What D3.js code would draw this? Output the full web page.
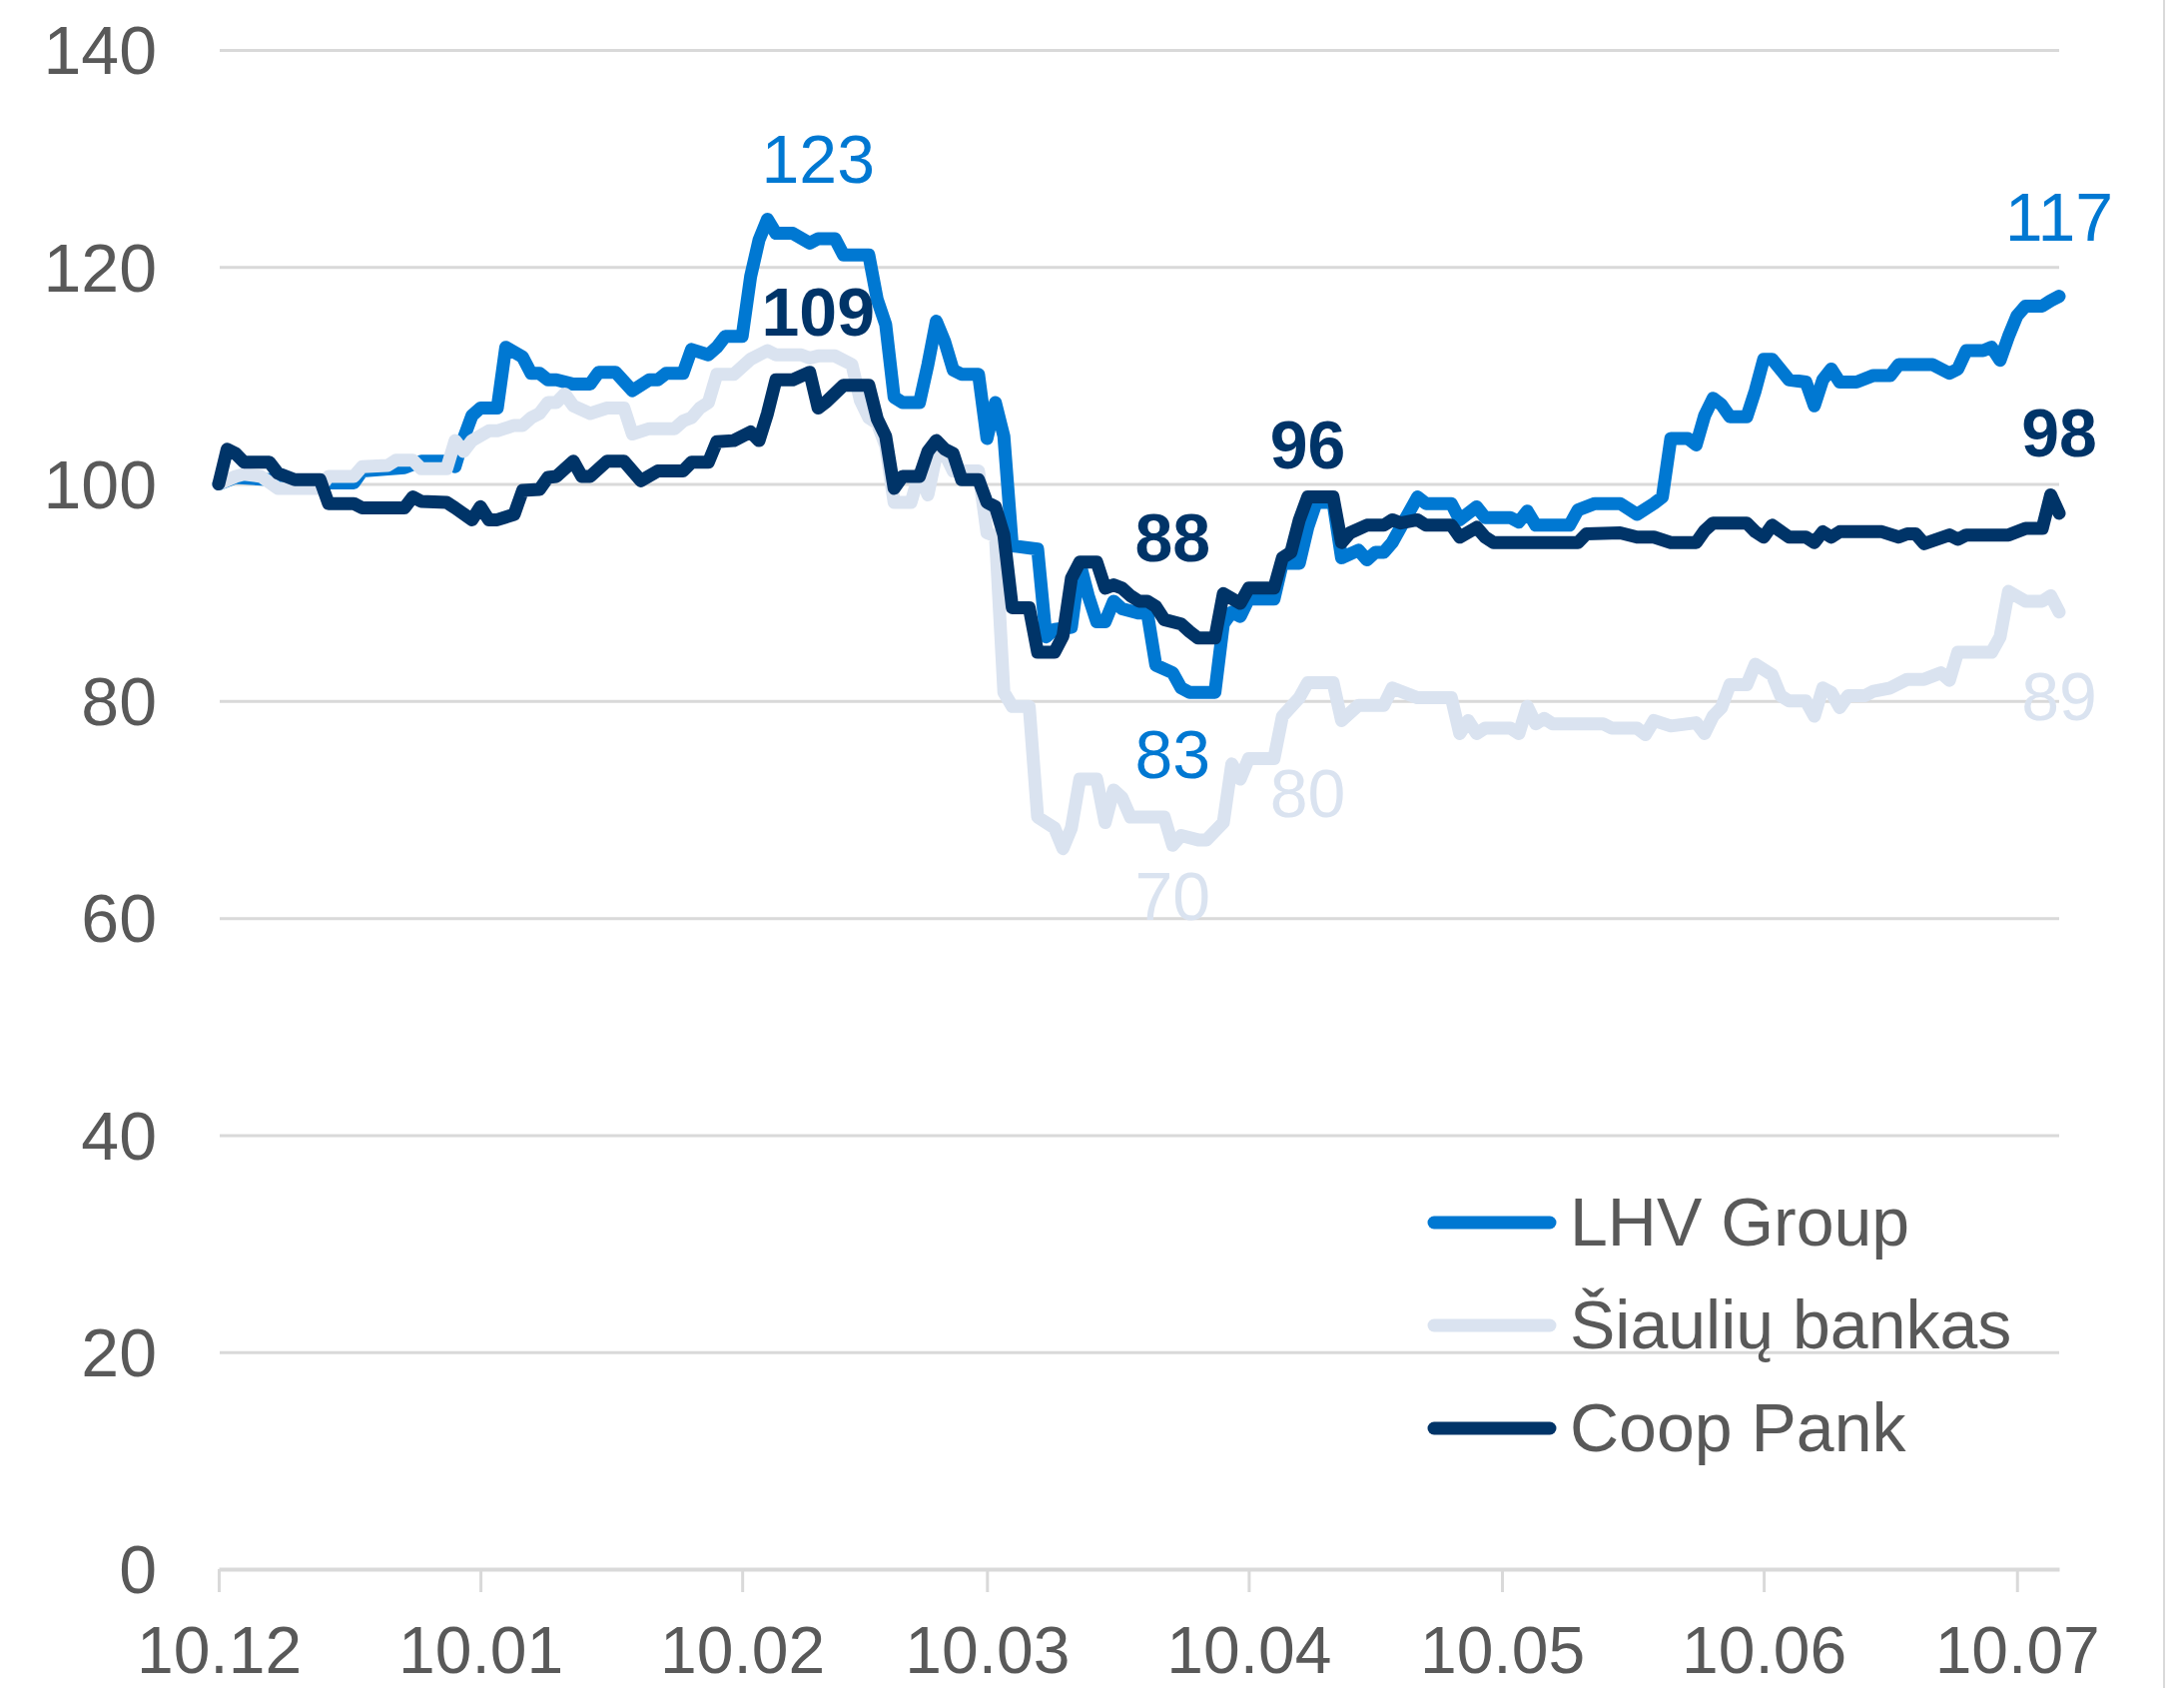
<!DOCTYPE html>
<html>
<head>
<meta charset="utf-8">
<script src="https://cdn.jsdelivr.net/npm/d3@7"></script>
<style>
  body { margin: 0; background: #fff; }
  svg { display: block; font-family: "Liberation Sans", Arial, sans-serif; }
  .tick text { fill: #595959; font-size: 68px; }
  .x-axis .tick text { font-size: 66px; }
</style>
</head>
<body>
<svg id="chart"></svg>
<script>
// series names and colours
const seriesNames = ["LHV Group", "Šiaulių bankas", "Coop Pank"];
const seriesColors = ["#0078d2", "#dae3f0", "#003468"];

// y axis ticks and x axis tick dates (dd.mm)
const yTicks = [0, 20, 40, 60, 80, 100, 120, 140];
const xTicks = ["2019-12-10", "2020-01-10", "2020-02-10", "2020-03-10", "2020-04-10", "2020-05-10", "2020-06-10", "2020-07-10"];

// LHV Group, index
const lhv = [
  ["2019-12-10",100.0],["2019-12-12",100.6],["2019-12-16",100.4],["2019-12-23",100.1],["2019-12-26",100.1],
  ["2019-12-27",101.2],["2020-01-01",101.5],["2020-01-03",102.1],["2020-01-06",102.1],["2020-01-07",101.6],
  ["2020-01-08",104.2],["2020-01-09",106.3],["2020-01-10",107.0],["2020-01-12",107.0],["2020-01-13",112.6],
  ["2020-01-15",111.7],["2020-01-16",110.2],["2020-01-17",110.2],["2020-01-18",109.6],["2020-01-19",109.6],
  ["2020-01-21",109.2],["2020-01-23",109.2],["2020-01-24",110.3],["2020-01-26",110.3],["2020-01-28",108.6],
  ["2020-01-30",109.6],["2020-01-31",109.6],["2020-02-01",110.2],["2020-02-03",110.2],["2020-02-04",112.4],
  ["2020-02-06",111.9],["2020-02-07",112.6],["2020-02-08",113.6],["2020-02-10",113.6],["2020-02-11",119.1],
  ["2020-02-12",122.5],["2020-02-13",124.4],["2020-02-14",123.1],["2020-02-16",123.1],["2020-02-18",122.2],
  ["2020-02-19",122.6],["2020-02-21",122.6],["2020-02-22",121.1],["2020-02-25",121.1],["2020-02-26",117.0],
  ["2020-02-27",114.7],["2020-02-28",108.0],["2020-02-29",107.5],["2020-03-02",107.5],["2020-03-03",111.0],
  ["2020-03-04",115.0],["2020-03-05",113.1],["2020-03-06",110.5],["2020-03-07",110.1],["2020-03-09",110.1],
  ["2020-03-10",104.2],["2020-03-11",107.5],["2020-03-12",104.4],["2020-03-13",94.3],["2020-03-16",94.0],
  ["2020-03-17",85.9],["2020-03-18",86.6],["2020-03-20",86.8],["2020-03-21",92.7],["2020-03-22",89.7],
  ["2020-03-23",87.3],["2020-03-24",87.3],["2020-03-25",89.2],["2020-03-26",88.5],["2020-03-28",88.1],
  ["2020-03-29",88.1],["2020-03-30",83.3],["2020-04-01",82.6],["2020-04-02",81.2],["2020-04-03",80.8],
  ["2020-04-06",80.8],["2020-04-07",87.1],["2020-04-08",88.2],["2020-04-09",87.8],["2020-04-10",89.4],
  ["2020-04-13",89.4],["2020-04-14",92.7],["2020-04-16",92.7],["2020-04-17",96.0],["2020-04-18",98.3],
  ["2020-04-20",98.3],["2020-04-21",93.2],["2020-04-23",93.9],["2020-04-24",93.0],["2020-04-25",93.7],
  ["2020-04-26",93.7],["2020-04-27",94.6],["2020-04-28",96.0],["2020-04-30",98.8],["2020-05-01",98.2],
  ["2020-05-04",98.2],["2020-05-05",96.7],["2020-05-07",97.9],["2020-05-08",96.9],["2020-05-11",96.9],
  ["2020-05-12",96.5],["2020-05-13",97.5],["2020-05-14",96.2],["2020-05-18",96.2],["2020-05-19",97.6],
  ["2020-05-21",98.2],["2020-05-24",98.2],["2020-05-26",97.2],["2020-05-28",98.2],["2020-05-29",98.8],
  ["2020-05-30",104.2],["2020-06-01",104.2],["2020-06-02",103.6],["2020-06-03",106.3],["2020-06-04",107.9],
  ["2020-06-05",107.3],["2020-06-06",106.2],["2020-06-08",106.2],["2020-06-09",108.6],["2020-06-10",111.5],
  ["2020-06-11",111.5],["2020-06-13",109.6],["2020-06-15",109.4],["2020-06-16",107.2],["2020-06-17",109.6],
  ["2020-06-18",110.6],["2020-06-19",109.4],["2020-06-21",109.4],["2020-06-23",110.0],["2020-06-25",110.0],
  ["2020-06-26",111.0],["2020-06-30",111.0],["2020-07-02",110.2],["2020-07-03",110.6],["2020-07-04",112.3],
  ["2020-07-06",112.3],["2020-07-07",112.6],["2020-07-08",111.4],["2020-07-09",113.6],["2020-07-10",115.5],
  ["2020-07-11",116.4],["2020-07-13",116.4],["2020-07-14",116.9],["2020-07-15",117.3]
];

// Šiaulių bankas
const siauliu = [
  ["2019-12-10",100.0],["2019-12-12",100.7],["2019-12-13",100.9],["2019-12-15",100.7],["2019-12-17",99.6],
  ["2019-12-22",99.6],["2019-12-23",100.7],["2019-12-26",100.7],["2019-12-27",101.6],["2019-12-30",101.7],
  ["2019-12-31",102.2],["2020-01-02",102.2],["2020-01-03",101.4],["2020-01-06",101.4],["2020-01-07",104.0],
  ["2020-01-08",103.0],["2020-01-09",104.0],["2020-01-11",104.9],["2020-01-12",104.9],["2020-01-14",105.4],
  ["2020-01-15",105.4],["2020-01-16",106.1],["2020-01-17",106.5],["2020-01-18",107.5],["2020-01-19",107.5],
  ["2020-01-20",108.3],["2020-01-21",107.2],["2020-01-23",106.5],["2020-01-25",107.0],["2020-01-27",107.0],
  ["2020-01-28",104.6],["2020-01-30",105.1],["2020-02-02",105.1],["2020-02-03",105.8],["2020-02-04",106.1],
  ["2020-02-05",107.0],["2020-02-06",107.5],["2020-02-07",110.1],["2020-02-09",110.1],["2020-02-11",111.5],
  ["2020-02-13",112.3],["2020-02-14",111.9],["2020-02-17",111.9],["2020-02-18",111.6],["2020-02-19",111.8],
  ["2020-02-21",111.8],["2020-02-23",111.0],["2020-02-24",107.7],["2020-02-25",106.1],["2020-02-26",105.6],
  ["2020-02-27",103.5],["2020-02-28",98.3],["2020-03-01",98.3],["2020-03-02",101.0],["2020-03-03",99.0],
  ["2020-03-04",102.7],["2020-03-05",102.8],["2020-03-06",101.2],["2020-03-09",101.2],["2020-03-10",95.5],
  ["2020-03-11",95.2],["2020-03-12",80.8],["2020-03-13",79.5],["2020-03-15",79.5],["2020-03-16",69.3],
  ["2020-03-18",68.3],["2020-03-19",66.4],["2020-03-20",68.3],["2020-03-21",72.8],["2020-03-23",72.8],
  ["2020-03-24",68.8],["2020-03-25",71.8],["2020-03-26",71.1],["2020-03-27",69.3],["2020-03-31",69.3],
  ["2020-04-01",66.7],["2020-04-02",67.6],["2020-04-04",67.2],["2020-04-05",67.2],["2020-04-07",68.8],
  ["2020-04-08",74.2],["2020-04-09",72.8],["2020-04-10",74.7],["2020-04-13",74.7],["2020-04-14",78.6],
  ["2020-04-16",80.3],["2020-04-17",81.7],["2020-04-20",81.7],["2020-04-21",78.2],["2020-04-23",79.6],
  ["2020-04-26",79.6],["2020-04-27",81.2],["2020-04-30",80.3],["2020-05-04",80.3],["2020-05-05",77.0],
  ["2020-05-06",78.2],["2020-05-07",77.0],["2020-05-08",77.5],["2020-05-11",77.5],["2020-05-12",77.0],
  ["2020-05-13",79.5],["2020-05-14",77.9],["2020-05-15",78.4],["2020-05-16",77.9],["2020-05-22",77.9],
  ["2020-05-23",77.5],["2020-05-26",77.5],["2020-05-27",76.9],["2020-05-28",78.2],["2020-05-30",77.7],
  ["2020-06-02",78.0],["2020-06-03",77.0],["2020-06-04",78.6],["2020-06-05",79.4],["2020-06-06",81.5],
  ["2020-06-08",81.5],["2020-06-09",83.4],["2020-06-11",82.4],["2020-06-12",80.5],["2020-06-13",80.0],
  ["2020-06-15",80.0],["2020-06-16",78.6],["2020-06-17",81.2],["2020-06-18",80.8],["2020-06-19",79.4],
  ["2020-06-20",80.5],["2020-06-22",80.5],["2020-06-23",80.9],["2020-06-25",81.2],["2020-06-27",82.0],
  ["2020-06-29",82.0],["2020-07-01",82.6],["2020-07-02",81.9],["2020-07-03",84.5],["2020-07-07",84.5],
  ["2020-07-08",85.9],["2020-07-09",90.1],["2020-07-11",89.2],["2020-07-13",89.2],["2020-07-14",89.7],
  ["2020-07-15",88.2]
];

// Coop Pank
const coop = [
  ["2019-12-10",100.0],["2019-12-11",103.2],["2019-12-12",102.8],["2019-12-13",102.0],["2019-12-16",102.0],
  ["2019-12-17",101.0],["2019-12-19",100.4],["2019-12-22",100.4],["2019-12-23",98.2],["2019-12-26",98.2],
  ["2019-12-27",97.8],["2020-01-01",97.8],["2020-01-02",98.8],["2020-01-03",98.4],["2020-01-06",98.3],
  ["2020-01-07",97.8],["2020-01-09",96.7],["2020-01-10",97.9],["2020-01-11",96.7],["2020-01-12",96.7],
  ["2020-01-14",97.2],["2020-01-15",99.4],["2020-01-17",99.5],["2020-01-18",100.6],["2020-01-19",100.7],
  ["2020-01-21",102.1],["2020-01-22",100.7],["2020-01-23",100.7],["2020-01-25",102.1],["2020-01-27",102.1],
  ["2020-01-28",101.2],["2020-01-29",100.3],["2020-01-31",101.2],["2020-02-03",101.2],["2020-02-04",102.0],
  ["2020-02-06",102.0],["2020-02-07",103.9],["2020-02-09",104.0],["2020-02-11",104.8],["2020-02-12",104.0],
  ["2020-02-13",106.5],["2020-02-14",109.6],["2020-02-16",109.6],["2020-02-18",110.3],["2020-02-19",107.0],
  ["2020-02-20",107.6],["2020-02-22",109.1],["2020-02-25",109.1],["2020-02-26",106.0],["2020-02-27",104.4],
  ["2020-02-28",99.6],["2020-02-29",100.7],["2020-03-02",100.7],["2020-03-03",103.0],["2020-03-04",104.0],
  ["2020-03-05",103.2],["2020-03-06",102.8],["2020-03-07",100.4],["2020-03-09",100.4],["2020-03-10",98.3],
  ["2020-03-11",97.9],["2020-03-12",95.3],["2020-03-13",88.6],["2020-03-15",88.6],["2020-03-16",84.5],
  ["2020-03-18",84.5],["2020-03-19",86.0],["2020-03-20",91.3],["2020-03-21",92.8],["2020-03-23",92.8],
  ["2020-03-24",90.4],["2020-03-25",90.7],["2020-03-26",90.4],["2020-03-27",89.7],["2020-03-28",89.2],
  ["2020-03-29",89.2],["2020-03-30",88.7],["2020-03-31",87.5],["2020-04-02",87.1],["2020-04-03",86.4],
  ["2020-04-04",85.8],["2020-04-06",85.8],["2020-04-07",89.9],["2020-04-09",89.0],["2020-04-10",90.4],
  ["2020-04-13",90.4],["2020-04-14",93.2],["2020-04-15",93.7],["2020-04-16",96.7],["2020-04-17",98.8],
  ["2020-04-20",98.8],["2020-04-21",94.6],["2020-04-22",95.5],["2020-04-24",96.2],["2020-04-26",96.2],
  ["2020-04-27",96.7],["2020-04-28",96.4],["2020-04-30",96.7],["2020-05-01",96.2],["2020-05-04",96.2],
  ["2020-05-05",95.1],["2020-05-07",96.0],["2020-05-08",95.1],["2020-05-09",94.6],["2020-05-19",94.6],
  ["2020-05-20",95.4],["2020-05-24",95.5],["2020-05-26",95.1],["2020-05-28",95.1],["2020-05-30",94.6],
  ["2020-06-02",94.6],["2020-06-03",95.7],["2020-06-04",96.4],["2020-06-08",96.4],["2020-06-09",95.6],
  ["2020-06-10",95.1],["2020-06-11",96.2],["2020-06-13",95.1],["2020-06-15",95.1],["2020-06-16",94.6],
  ["2020-06-17",95.6],["2020-06-18",95.1],["2020-06-19",95.6],["2020-06-24",95.6],["2020-06-26",95.1],
  ["2020-06-27",95.4],["2020-06-28",95.4],["2020-06-29",94.5],["2020-07-02",95.3],["2020-07-03",94.9],
  ["2020-07-04",95.3],["2020-07-09",95.3],["2020-07-11",95.9],["2020-07-13",95.9],["2020-07-14",99.0],
  ["2020-07-15",97.3]
];

// data labels: text, series index, date and value of the text baseline, bold
const labels = [
  ["123", 0, "2020-02-19", 127.8, false],
  ["109", 2, "2020-02-19", 113.7, true],
  ["117", 0, "2020-07-15", 122.4, false],
  ["98", 2, "2020-07-15", 102.5, true],
  ["89", 1, "2020-07-15", 78.2, false],
  ["96", 2, "2020-04-17", 101.4, true],
  ["88", 2, "2020-04-01", 92.9, true],
  ["83", 0, "2020-04-01", 72.9, false],
  ["80", 1, "2020-04-17", 69.3, false],
  ["70", 1, "2020-04-01", 59.8, false]
];

const width = 2187, height = 1690;
const parse = d3.timeParse("%Y-%m-%d");

const svg = d3.select("#chart")
    .attr("width", width)
    .attr("height", height);

const x = d3.scaleTime()
    .domain([parse("2019-12-10"), parse("2020-07-15")])
    .range([219, 2062]);

const y = d3.scaleLinear()
    .domain([0, 140])
    .range([1571, 50]);

// frame line on the right
svg.append("line")
    .attr("x1", 2167).attr("x2", 2167)
    .attr("y1", 0).attr("y2", height)
    .attr("stroke", "#d9d9d9")
    .attr("stroke-width", 2);

// y axis with gridlines
const yAxis = svg.append("g")
    .attr("transform", "translate(220,0)")
    .call(d3.axisLeft(y)
      .tickValues(yTicks)
      .tickSize(-(2062 - 220))
      .tickPadding(63));
yAxis.select(".domain").remove();
yAxis.selectAll(".tick line")
    .attr("stroke", "#d9d9d9")
    .attr("stroke-width", 3);
yAxis.selectAll(".tick text").attr("dy", "0.35em");

// x axis
const xAxis = svg.append("g")
    .attr("class", "x-axis")
    .attr("transform", `translate(0,${y(0)})`)
    .call(d3.axisBottom(x)
      .tickValues(xTicks.map(parse))
      .tickFormat(d3.timeFormat("%d.%m"))
      .tickSize(23)
      .tickSizeOuter(0)
      .tickPadding(34));
xAxis.select(".domain")
    .attr("stroke", "#d9d9d9")
    .attr("stroke-width", 4);
xAxis.selectAll(".tick line")
    .attr("stroke", "#d9d9d9")
    .attr("stroke-width", 3);

// lines, drawn in legend order so Coop Pank is on top
const line = d3.line()
    .x(d => x(parse(d[0])))
    .y(d => y(d[1]));

[lhv, siauliu, coop].forEach((series, i) => {
  svg.append("path")
      .datum(series)
      .attr("d", line)
      .attr("fill", "none")
      .attr("stroke", seriesColors[i])
      .attr("stroke-width", 13)
      .attr("stroke-linejoin", "round")
      .attr("stroke-linecap", "round");
});

// data labels
svg.append("g")
  .selectAll("text")
  .data(labels)
  .enter().append("text")
    .attr("x", d => x(parse(d[2])))
    .attr("y", d => y(d[3]))
    .attr("text-anchor", "middle")
    .attr("font-size", 68)
    .attr("font-weight", d => d[4] ? "bold" : "normal")
    .attr("fill", d => seriesColors[d[1]])
    .text(d => d[0]);

// legend
const legend = svg.append("g")
  .selectAll("g")
  .data(seriesNames)
  .enter().append("g")
    .attr("transform", (d, i) => `translate(1436,${1224 + i * 103})`);

legend.append("line")
    .attr("x1", 0).attr("x2", 116)
    .attr("stroke", (d, i) => seriesColors[i])
    .attr("stroke-width", 13)
    .attr("stroke-linecap", "round");

legend.append("text")
    .attr("x", 136)
    .attr("y", 23)
    .attr("font-size", 68)
    .attr("fill", "#595959")
    .text(d => d);
</script>
</body>
</html>
